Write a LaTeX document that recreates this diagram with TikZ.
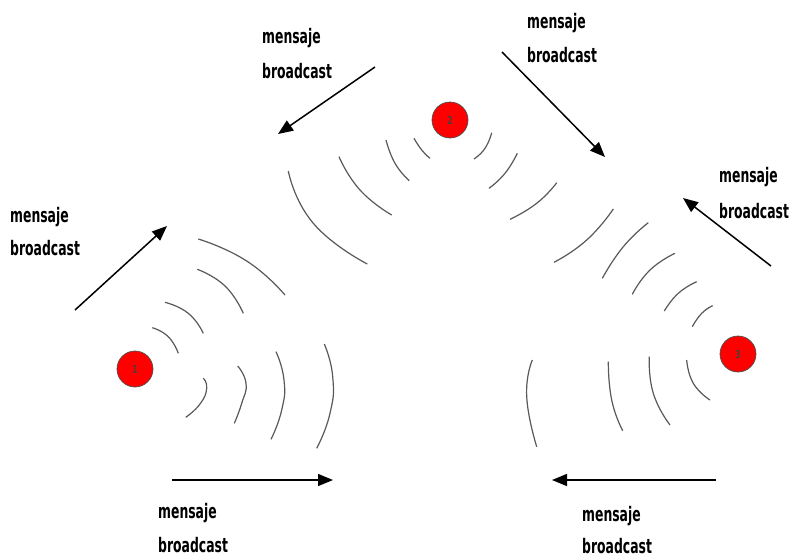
\documentclass[tikz,border=0pt]{standalone}
\usepackage{fontspec}
\newfontfamily\lblfont[FakeStretch=0.62]{DejaVu Sans Bold}
\usetikzlibrary{arrows.meta}
\begin{document}
\begin{tikzpicture}[x=1pt,y=-1pt,
  lbl/.style={font=\lblfont\fontsize{20}{24}\selectfont, anchor=base west, inner sep=0pt},
  station/.style={circle, fill=red, draw=black!70, line width=0.7pt, minimum size=36pt, inner sep=0pt,
                  font=\lblfont\fontsize{11}{12}\selectfont, text=black!75},
  wave/.style={draw=black!65, line width=1.2pt},
  msg/.style={draw=black, line width=1.5pt, -{Triangle[length=15pt,width=12pt]}}]
\useasboundingbox (0,0) rectangle (789,558);
\fill[white] (0,0) rectangle (789,558);

% stations
\node[station] (n1) at (135,369) {1};
\node[station] (n2) at (450,120) {2};
\node[station] (n3) at (738,354) {3};

\begin{scope}[every plot/.style={smooth, tension=0.9}]
% waves of station 1
\draw[wave] plot coordinates {(152.3,327.7) (168.3,336.7) (178.3,353.3)};
\draw[wave] plot coordinates {(165,302.3) (188.3,313.3) (203.3,333.3)};
\draw[wave] plot coordinates {(197.3,269.3) (225,286) (243.3,313.3)};
\draw[wave] plot coordinates {(198.3,239) (246.7,261) (285,295)};
\draw[wave] plot coordinates {(203.3,378.3) (206.7,388.3) (200,404) (185.7,417.3)};
\draw[wave] plot coordinates {(237.7,366) (246,383.3) (241.7,403.3) (234.3,423.3)};
\draw[wave] plot coordinates {(276,351.7) (284,380) (281.7,410) (271,439.3)};
\draw[wave] plot coordinates {(324.3,344) (332.7,376.7) (330,413.3) (316.7,448.3)};

% waves of station 2
\draw[wave] plot coordinates {(414,138.3) (421.7,150) (430,158.3)};
\draw[wave] plot coordinates {(386,140) (395,163.3) (409.3,180.7)};
\draw[wave] plot coordinates {(339,156.7) (360,190) (391.7,215)};
\draw[wave] plot coordinates {(288.3,171) (313.3,223.3) (367.3,264)};
\draw[wave] plot coordinates {(491.7,132.7) (485,148.3) (474,159)};
\draw[wave] plot coordinates {(517.3,153.3) (505,173.3) (489,188.3)};
\draw[wave] plot coordinates {(556.7,182.7) (536.7,203.3) (510,219.3)};
\draw[wave] plot coordinates {(613.3,209) (586.7,240) (554,262.3)};

% waves of station 3
\draw[wave] plot coordinates {(712.7,305.7) (701.7,313.3) (692.3,326.7)};
\draw[wave] plot coordinates {(696.7,281.7) (678.3,293.3) (664.3,311)};
\draw[wave] plot coordinates {(675,253.3) (650,270) (632.3,294.3)};
\draw[wave] plot coordinates {(648.3,222.7) (623.3,246.7) (602.3,278.3)};
\draw[wave] plot coordinates {(686.7,360) (693.3,383.3) (710,400)};
\draw[wave] plot coordinates {(649.3,356.7) (653.3,393.3) (670,425)};
\draw[wave] plot coordinates {(608.3,361.7) (611.7,400) (622.7,430.7)};
\draw[wave] plot coordinates {(532.3,360) (526.7,396.7) (536.7,446.7)};
\end{scope}

% arrow end points
\coordinate (a1s) at (75,310);  \coordinate (a1e) at (167,226);
\coordinate (a2s) at (375,67);  \coordinate (a2e) at (278,134);
\coordinate (a3s) at (502,52);  \coordinate (a3e) at (605,157);
\coordinate (a4s) at (771,266); \coordinate (a4e) at (683,198);
\coordinate (a5s) at (172,480); \coordinate (a5e) at (333,480);
\coordinate (a6s) at (716,480); \coordinate (a6e) at (552,480);
\draw[msg] (a1s) -- (a1e);
\draw[msg] (a2s) -- (a2e);
\draw[msg] (a3s) -- (a3e);
\draw[msg] (a4s) -- (a4e);
\draw[msg] (a5s) -- (a5e);
\draw[msg] (a6s) -- (a6e);

% labels
\node[lbl] (l1a) at (10,222) {mensaje};
\node[lbl] (l1b) at (10,255) {broadcast};
\node[lbl] (l2a) at (262,43) {mensaje};
\node[lbl] (l2b) at (262,78) {broadcast};
\node[lbl] (l3a) at (527,28) {mensaje};
\node[lbl] (l3b) at (527,62) {broadcast};
\node[lbl] (l4a) at (719,182) {mensaje};
\node[lbl] (l4b) at (719,218) {broadcast};
\node[lbl] (l5a) at (158,518) {mensaje};
\node[lbl] (l5b) at (158,552) {broadcast};
\node[lbl] (l6a) at (582,521) {mensaje};
\node[lbl] (l6b) at (582,553) {broadcast};
\end{tikzpicture}
\end{document}
